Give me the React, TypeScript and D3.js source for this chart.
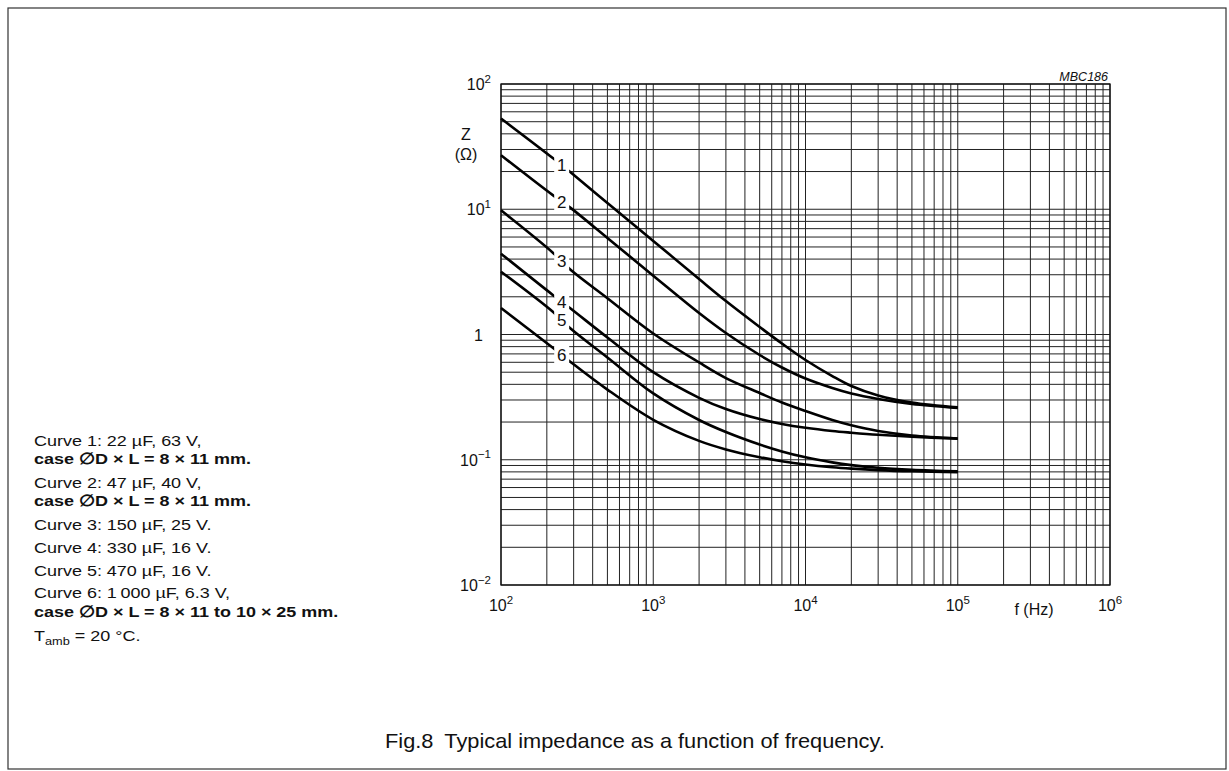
import React from 'react';
import * as d3 from 'd3';

// ---- data ----
const FREQ = [100, 220, 285, 500, 1000, 2000, 3000, 5000, 7000, 10000, 15000, 20000, 30000, 50000, 100000];
const Z1 = [53, 25.5, 19.8, 11.2, 5.58, 2.77, 1.85, 1.148, 0.847, 0.626, 0.466, 0.388, 0.326, 0.2865, 0.262];
const Z2 = [27, 12.9, 10.3, 5.9, 2.95, 1.485, 1.028, 0.686, 0.545, 0.445, 0.374, 0.338, 0.3055, 0.2787, 0.259];
const Z3 = [9.8, 4.48, 3.3, 1.95, 1.019, 0.598, 0.449, 0.341, 0.2865, 0.245, 0.2077, 0.1884, 0.1696, 0.1562, 0.1478];
const Z4 = [4.42, 2.06, 1.62, 0.946, 0.5, 0.3123, 0.2542, 0.2112, 0.193, 0.1799, 0.1696, 0.1644, 0.1582, 0.1525, 0.1475];
const Z5 = [3.17, 1.51, 1.12, 0.655, 0.3386, 0.2077, 0.1665, 0.1323, 0.1166, 0.1046, 0.0953, 0.0906, 0.0862, 0.0831, 0.0807];
const Z6 = [1.63, 0.78, 0.607, 0.3632, 0.2084, 0.1414, 0.1209, 0.1048, 0.0974, 0.0917, 0.0872, 0.085, 0.0827, 0.0809, 0.0796];
const SERIES = [Z1, Z2, Z3, Z4, Z5, Z6];
const CURVE_LABELS = ['1', '2', '3', '4', '5', '6'];

const X_TICKS = [1e2, 1e3, 1e4, 1e5, 1e6];
const X_TICK_EXP = ['2', '3', '4', '5', '6'];
const Y_TICKS = [1e2, 1e1, 1, 1e-1, 1e-2];
const Y_TICK_EXP = ['2', '1', '', '\u22121', '\u22122'];

const LEGEND = [
  { text: 'Curve 1: 22 \u00b5F, 63 V,', bold: false },
  { text: 'case \u2205D \u00d7 L = 8 \u00d7 11 mm.', bold: true },
  { text: 'Curve 2: 47 \u00b5F, 40 V,', bold: false },
  { text: 'case \u2205D \u00d7 L = 8 \u00d7 11 mm.', bold: true },
  { text: 'Curve 3: 150 \u00b5F, 25 V.', bold: false },
  { text: 'Curve 4: 330 \u00b5F, 16 V.', bold: false },
  { text: 'Curve 5: 470 \u00b5F, 16 V.', bold: false },
  { text: 'Curve 6: 1\u2009000 \u00b5F, 6.3 V,', bold: false },
  { text: 'case \u2205D \u00d7 L = 8 \u00d7 11 to 10 \u00d7 25 mm.', bold: true },
];
const LEGEND_Y = [446, 464, 488, 506, 530, 553, 576, 598, 617];
const TAMB_Y = 641;

const FONT = '"Liberation Sans", Arial, Helvetica, sans-serif';

function SText({ x, y, sx = 1.1, children, ...rest }: any) {
  return (
    <text transform={`translate(${x},${y}) scale(${sx},1)`} fontFamily={FONT} fill="#111" {...rest}>
      {children}
    </text>
  );
}

export default function App() {
  const W = 1229, H = 771;
  const x = d3.scaleLog().domain([1e2, 1e6]).range([501, 1110]);
  const y = d3.scaleLog().domain([1e-2, 1e2]).range([585, 84]);
  const xGrid = x.ticks();
  const yGrid = y.ticks();
  const line = d3
    .line<[number, number]>()
    .x((d) => x(d[0]))
    .y((d) => y(d[1]))
    .curve(d3.curveCatmullRom.alpha(0.5));

  const curves = SERIES.map((zs) => zs.map((z, i) => [FREQ[i], z] as [number, number]));
  const labels = curves.map((pts) => ({
    lx: (x(pts[1][0]) + x(pts[2][0])) / 2,
    ly: (y(pts[1][1]) + y(pts[2][1])) / 2,
  }));

  return (
    <svg width={W} height={H} style={{ position: 'absolute', left: 0, top: 0, background: '#fff' }}>
      <rect x={0} y={0} width={W} height={H} fill="#fff" />
      {/* frame */}
      <rect x={8} y={8} width={1218} height={761} fill="none" stroke="#333" strokeWidth={1.2} />

      {/* grid */}
      <g stroke="#222" strokeWidth={1}>
        {xGrid.map((v, i) => (
          <line key={'gx' + i} x1={x(v)} x2={x(v)} y1={y(1e2)} y2={y(1e-2)} />
        ))}
        {yGrid.map((v, i) => (
          <line key={'gy' + i} x1={x(1e2)} x2={x(1e6)} y1={y(v)} y2={y(v)} />
        ))}
      </g>
      <rect x={x(1e2)} y={y(1e2)} width={x(1e6) - x(1e2)} height={y(1e-2) - y(1e2)} fill="none" stroke="#111" strokeWidth={1.3} />

      {/* curves */}
      <g fill="none" stroke="#000" strokeWidth={2.6} strokeLinecap="butt">
        {curves.map((pts, i) => (
          <path key={'c' + i} d={line(pts) || ''} />
        ))}
      </g>

      {/* curve labels */}
      {labels.map((l, i) => (
        <g key={'l' + i}>
          <rect x={l.lx - 7.5} y={l.ly - 9.5} width={15} height={19} fill="#fff" />
          <text x={l.lx} y={l.ly + 6} textAnchor="middle" fontFamily={FONT} fontSize={17} fill="#111">
            {CURVE_LABELS[i]}
          </text>
        </g>
      ))}

      {/* y tick labels */}
      {Y_TICKS.map((v, i) =>
        Y_TICK_EXP[i] === '' ? (
          <text key={'yt' + i} x={483} y={y(v) + 6} textAnchor="end" fontFamily={FONT} fontSize={16} fill="#111">
            1
          </text>
        ) : (
          <text key={'yt' + i} x={491} y={y(v) + 6} textAnchor="end" fontFamily={FONT} fontSize={16} fill="#111">
            10
            <tspan dy={-7.5} fontSize={11.5}>
              {Y_TICK_EXP[i]}
            </tspan>
          </text>
        )
      )}

      {/* x tick labels */}
      {X_TICKS.map((v, i) => (
        <text key={'xt' + i} x={x(v)} y={611} textAnchor="middle" fontFamily={FONT} fontSize={16} fill="#111">
          10
          <tspan dy={-7.5} fontSize={11.5}>
            {X_TICK_EXP[i]}
          </tspan>
        </text>
      ))}

      {/* axis titles */}
      <text x={1034} y={615} textAnchor="middle" fontFamily={FONT} fontSize={16} fill="#111">
        f  (Hz)
      </text>
      <text x={466} y={140} textAnchor="middle" fontFamily={FONT} fontSize={16} fill="#111">
        Z
      </text>
      <text x={466} y={160} textAnchor="middle" fontFamily={FONT} fontSize={16} fill="#111">
        ({'\u03a9'})
      </text>
      <text x={1108} y={81} textAnchor="end" fontFamily={FONT} fontSize={12.5} fontStyle="italic" fill="#111">
        MBC186
      </text>

      {/* legend */}
      {LEGEND.map((l, i) => (
        <SText key={'lg' + i} x={34} y={LEGEND_Y[i]} fontSize={15.5} sx={1.16} fontWeight={l.bold ? 'bold' : 'normal'}>
          {l.text}
        </SText>
      ))}
      <SText x={34} y={TAMB_Y} fontSize={15.5} sx={1.16}>
        T
        <tspan dy={4} fontSize={11}>
          amb
        </tspan>
        <tspan dy={-4}> = 20 {'\u00b0'}C.</tspan>
      </SText>

      {/* caption */}
      <SText x={385} y={748} fontSize={20} sx={1.09}>
        Fig.8{'\u2002'}Typical impedance as a function of frequency.
      </SText>
    </svg>
  );
}
